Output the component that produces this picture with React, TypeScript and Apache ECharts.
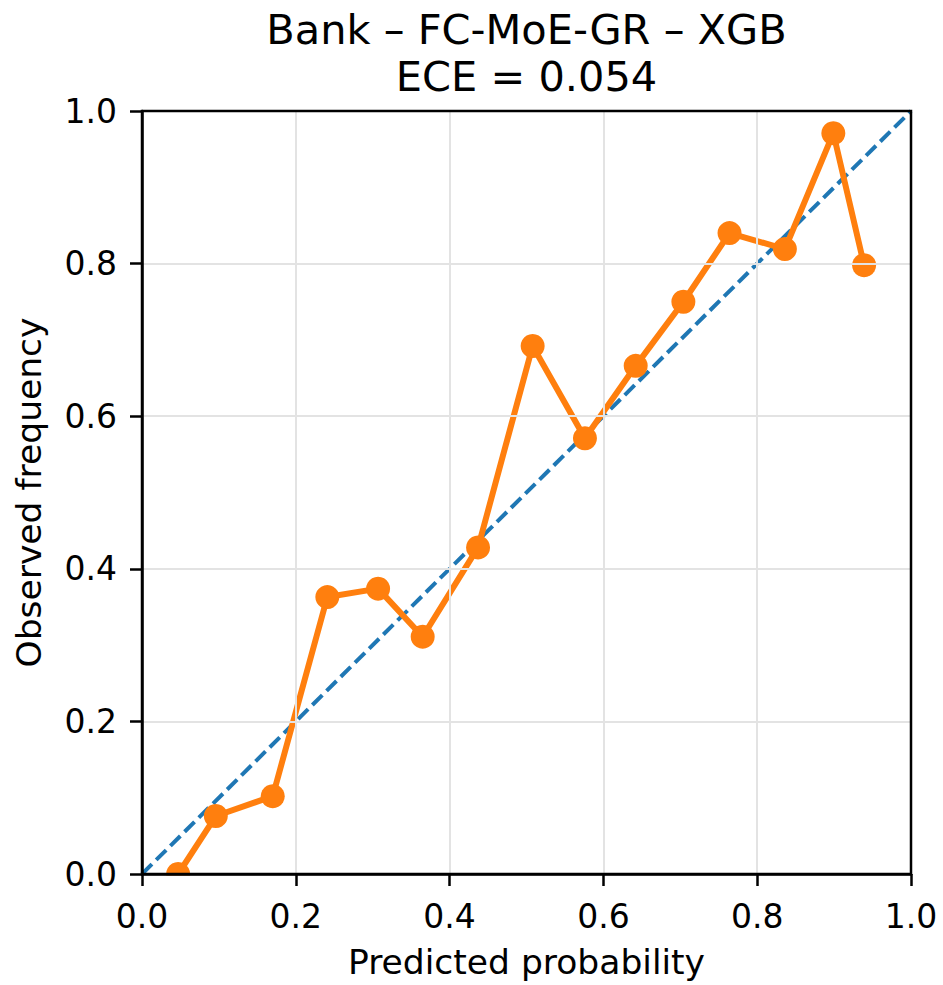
import React, { useEffect, useRef } from "react";
import * as echarts from "echarts";

const predicted = [0.047, 0.096, 0.170, 0.241, 0.307, 0.365, 0.437, 0.508, 0.576, 0.642, 0.704, 0.764, 0.836, 0.899, 0.939];
const observed = [0.0, 0.076, 0.102, 0.363, 0.374, 0.311, 0.428, 0.692, 0.571, 0.666, 0.750, 0.840, 0.819, 0.971, 0.798];
const diagonal = [[0, 0], [1, 1]];
const titleLines = ["Bank – FC-MoE-GR – XGB", "ECE = 0.054"];
const xName = "Predicted probability";
const yName = "Observed frequency";

const FONT = "DejaVu Sans";
const G = { left: 142, top: 111, width: 769, height: 763 };

export default function App() {
  const ref = useRef<HTMLDivElement>(null);
  useEffect(() => {
    if (!ref.current) return;
    const chart = echarts.init(ref.current, null, { renderer: "svg" });
    const cx = G.left + G.width / 2;
    const axisCommon = {
      type: "value",
      min: 0,
      max: 1,
      interval: 0.2,
      axisLine: { show: true, lineStyle: { color: "#000", width: 2.5 } },
      axisTick: { show: true, length: 12, lineStyle: { color: "#000", width: 2.5 } },
      splitLine: { show: true, lineStyle: { color: "#e3e3e3", width: 2 } },
      nameTextStyle: { fontFamily: FONT, fontSize: 34.5, color: "#000" },
      z: 5,
    };
    chart.setOption({
      animation: false,
      backgroundColor: "#fff",
      grid: {
        left: G.left,
        top: G.top,
        width: G.width,
        height: G.height,
        show: true,
        borderColor: "#000",
        borderWidth: 2.5,
        backgroundColor: "transparent",
        z: 6,
      },
      graphic: [
        {
          type: "text",
          x: cx,
          y: 29,
          z: 10,
          style: { text: titleLines[0], fontFamily: FONT, fontSize: 41.5, fill: "#000", textAlign: "center", textVerticalAlign: "middle" },
        },
        {
          type: "text",
          x: cx,
          y: 76,
          z: 10,
          style: { text: titleLines[1], fontFamily: FONT, fontSize: 41.5, fill: "#000", textAlign: "center", textVerticalAlign: "middle" },
        },
        {
          type: "rect",
          z: 3,
          shape: { x: G.left + 2, y: G.top + G.height + 1.5, width: G.width - 4, height: 20 },
          style: { fill: "#fff" },
        },
      ],
      xAxis: {
        ...axisCommon,
        name: xName,
        nameLocation: "middle",
        nameGap: 70,
        axisLabel: { fontFamily: FONT, fontSize: 33, color: "#000", margin: 26, formatter: (v: number) => v.toFixed(1) },
      },
      yAxis: {
        ...axisCommon,
        name: yName,
        nameLocation: "middle",
        nameGap: 96,
        axisLabel: { fontFamily: FONT, fontSize: 33, color: "#000", margin: 25, formatter: (v: number) => v.toFixed(1) },
      },
      series: [
        {
          type: "line",
          data: diagonal,
          symbol: "none",
          lineStyle: { color: "#1f77b4", width: 4, type: [14, 6] },
          z: 1,
          silent: true,
        },
        {
          type: "line",
          data: predicted.map((p, i) => [p, observed[i]]),
          symbol: "circle",
          symbolSize: 24,
          clip: false,
          itemStyle: { color: "#ff7f0e" },
          lineStyle: { color: "#ff7f0e", width: 6 },
          z: 2,
        },
      ],
    });
    return () => chart.dispose();
  }, []);
  return <div ref={ref} style={{ position: "absolute", left: 0, top: 0, width: 943, height: 985 }} />;
}
